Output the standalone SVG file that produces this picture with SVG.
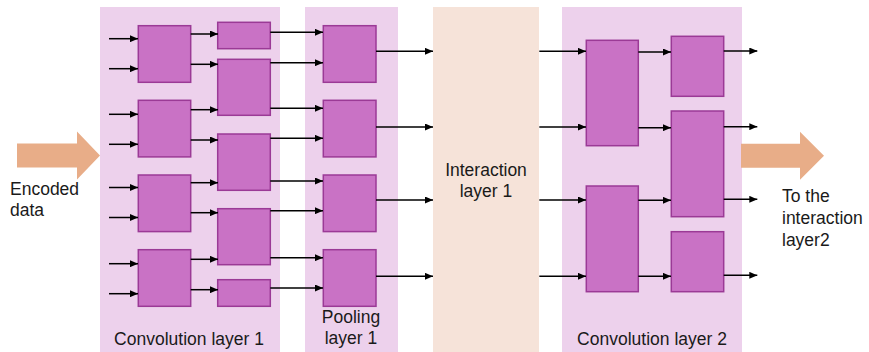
<svg xmlns="http://www.w3.org/2000/svg" width="869" height="352" viewBox="0 0 869 352">
<style>
.panel{fill:#EDD1EC}
.inter{fill:#F6E3D9}
.box{fill:#C972C5;stroke:#9B3A96;stroke-width:1.5}
.big{fill:#E8AD88}
.c line{stroke:#000;stroke-width:1.5;marker-end:url(#ah)}
text{font-family:"Liberation Sans",Arial,sans-serif;font-size:17.5px;fill:#1a1a1a}
.m{text-anchor:middle}
</style>
<defs>
<marker id="ah" markerUnits="userSpaceOnUse" markerWidth="8" markerHeight="7" refX="8" refY="3.5" orient="auto">
<path d="M0,0 L8,3.5 L0,7 z" fill="#000"/>
</marker>
</defs>
<rect width="869" height="352" fill="#fff"/>
<g id="panel-conv1"><rect class="panel" x="100" y="7" width="180" height="345"/><text class="m" x="189" y="345">Convolution layer 1</text></g>
<g id="panel-pool1"><rect class="panel" x="305" y="7" width="93" height="345"/><text class="m" x="351" y="323">Pooling</text><text class="m" x="351" y="344">layer 1</text></g>
<g id="panel-inter1"><rect class="inter" x="433" y="7" width="106" height="345"/><text class="m" x="486" y="176">Interaction</text><text class="m" x="486" y="197">layer 1</text></g>
<g id="panel-conv2"><rect class="panel" x="562" y="7" width="180" height="345"/><text class="m" x="652" y="345">Convolution layer 2</text></g>
<g id="input-arrow"><path class="big" d="M17,143.5 H77 V131.5 L100,155.5 L77,179.5 V167.5 H17 z"/><text x="10" y="195">Encoded</text><text x="10" y="216">data</text></g>
<g id="output-arrow"><path class="big" d="M741,143.7 H800 V131.7 L824,155.7 L800,179.7 V167.7 H741 z"/><text x="782" y="202">To the</text><text x="782" y="224">interaction</text><text x="782" y="246">layer2</text></g>
<g id="conv1-a1"><rect class="box" x="138.3" y="25.7" width="52.4" height="56.6"/></g>
<g id="conv1-a2"><rect class="box" x="138.3" y="100.3" width="52.4" height="56.6"/></g>
<g id="conv1-a3"><rect class="box" x="138.3" y="175" width="52.4" height="56.6"/></g>
<g id="conv1-a4"><rect class="box" x="138.3" y="249.7" width="52.4" height="56.6"/></g>
<g id="conv1-b1"><rect class="box" x="217.7" y="22.3" width="52.6" height="26.4"/></g>
<g id="conv1-b2"><rect class="box" x="217.7" y="59.3" width="52.6" height="56"/></g>
<g id="conv1-b3"><rect class="box" x="217.7" y="134" width="52.6" height="56.3"/></g>
<g id="conv1-b4"><rect class="box" x="217.7" y="208.7" width="52.6" height="56"/></g>
<g id="conv1-b5"><rect class="box" x="217.7" y="279.7" width="52.6" height="26.6"/></g>
<g id="pool1-1"><rect class="box" x="323.3" y="25.7" width="52.7" height="56.6"/></g>
<g id="pool1-2"><rect class="box" x="323.3" y="100.3" width="52.7" height="56.6"/></g>
<g id="pool1-3"><rect class="box" x="323.3" y="175" width="52.7" height="56.6"/></g>
<g id="pool1-4"><rect class="box" x="323.3" y="249.7" width="52.7" height="56.6"/></g>
<g id="conv2-a1"><rect class="box" x="586.3" y="40.3" width="52" height="105.4"/></g>
<g id="conv2-a2"><rect class="box" x="586.3" y="186" width="52" height="105.7"/></g>
<g id="conv2-b1"><rect class="box" x="671.3" y="36.3" width="52.4" height="60"/></g>
<g id="conv2-b2"><rect class="box" x="671.3" y="111" width="52.4" height="105.7"/></g>
<g id="conv2-b3"><rect class="box" x="671.3" y="231.7" width="52.4" height="60"/></g>
<g id="connectors" class="c">
<line x1="109" y1="38.7" x2="138" y2="38.7"/>
<line x1="109" y1="68.7" x2="138" y2="68.7"/>
<line x1="109" y1="114.3" x2="138" y2="114.3"/>
<line x1="109" y1="144.3" x2="138" y2="144.3"/>
<line x1="109" y1="187.5" x2="138" y2="187.5"/>
<line x1="109" y1="217.5" x2="138" y2="217.5"/>
<line x1="109" y1="263.7" x2="138" y2="263.7"/>
<line x1="109" y1="293.7" x2="138" y2="293.7"/>
<line x1="190.7" y1="34" x2="218" y2="34"/>
<line x1="190.7" y1="64.3" x2="218" y2="64.3"/>
<line x1="190.7" y1="109.7" x2="218" y2="109.7"/>
<line x1="190.7" y1="140" x2="218" y2="140"/>
<line x1="190.7" y1="182.7" x2="218" y2="182.7"/>
<line x1="190.7" y1="212.7" x2="218" y2="212.7"/>
<line x1="190.7" y1="259.3" x2="218" y2="259.3"/>
<line x1="190.7" y1="289.7" x2="218" y2="289.7"/>
<line x1="270.3" y1="32.3" x2="323" y2="32.3"/>
<line x1="270.3" y1="62.7" x2="323" y2="62.7"/>
<line x1="270.3" y1="108.3" x2="323" y2="108.3"/>
<line x1="270.3" y1="138.3" x2="323" y2="138.3"/>
<line x1="270.3" y1="181" x2="323" y2="181"/>
<line x1="270.3" y1="210.7" x2="323" y2="210.7"/>
<line x1="270.3" y1="257.7" x2="323" y2="257.7"/>
<line x1="270.3" y1="288" x2="323" y2="288"/>
<line x1="376" y1="51.3" x2="433" y2="51.3"/>
<line x1="376" y1="127" x2="433" y2="127"/>
<line x1="376" y1="200" x2="433" y2="200"/>
<line x1="376" y1="276.3" x2="433" y2="276.3"/>
<line x1="539.3" y1="51.3" x2="586" y2="51.3"/>
<line x1="539.3" y1="127" x2="586" y2="127"/>
<line x1="539.3" y1="200" x2="586" y2="200"/>
<line x1="539.3" y1="276.3" x2="586" y2="276.3"/>
<line x1="638.3" y1="52" x2="671" y2="52"/>
<line x1="638.3" y1="127.7" x2="671" y2="127.7"/>
<line x1="638.3" y1="200.3" x2="671" y2="200.3"/>
<line x1="638.3" y1="276.3" x2="671" y2="276.3"/>
<line x1="723.7" y1="51" x2="757.3" y2="51"/>
<line x1="723.7" y1="126.7" x2="757.3" y2="126.7"/>
<line x1="723.7" y1="199.3" x2="757.3" y2="199.3"/>
<line x1="723.7" y1="275.3" x2="757.3" y2="275.3"/>
</g>
</svg>
